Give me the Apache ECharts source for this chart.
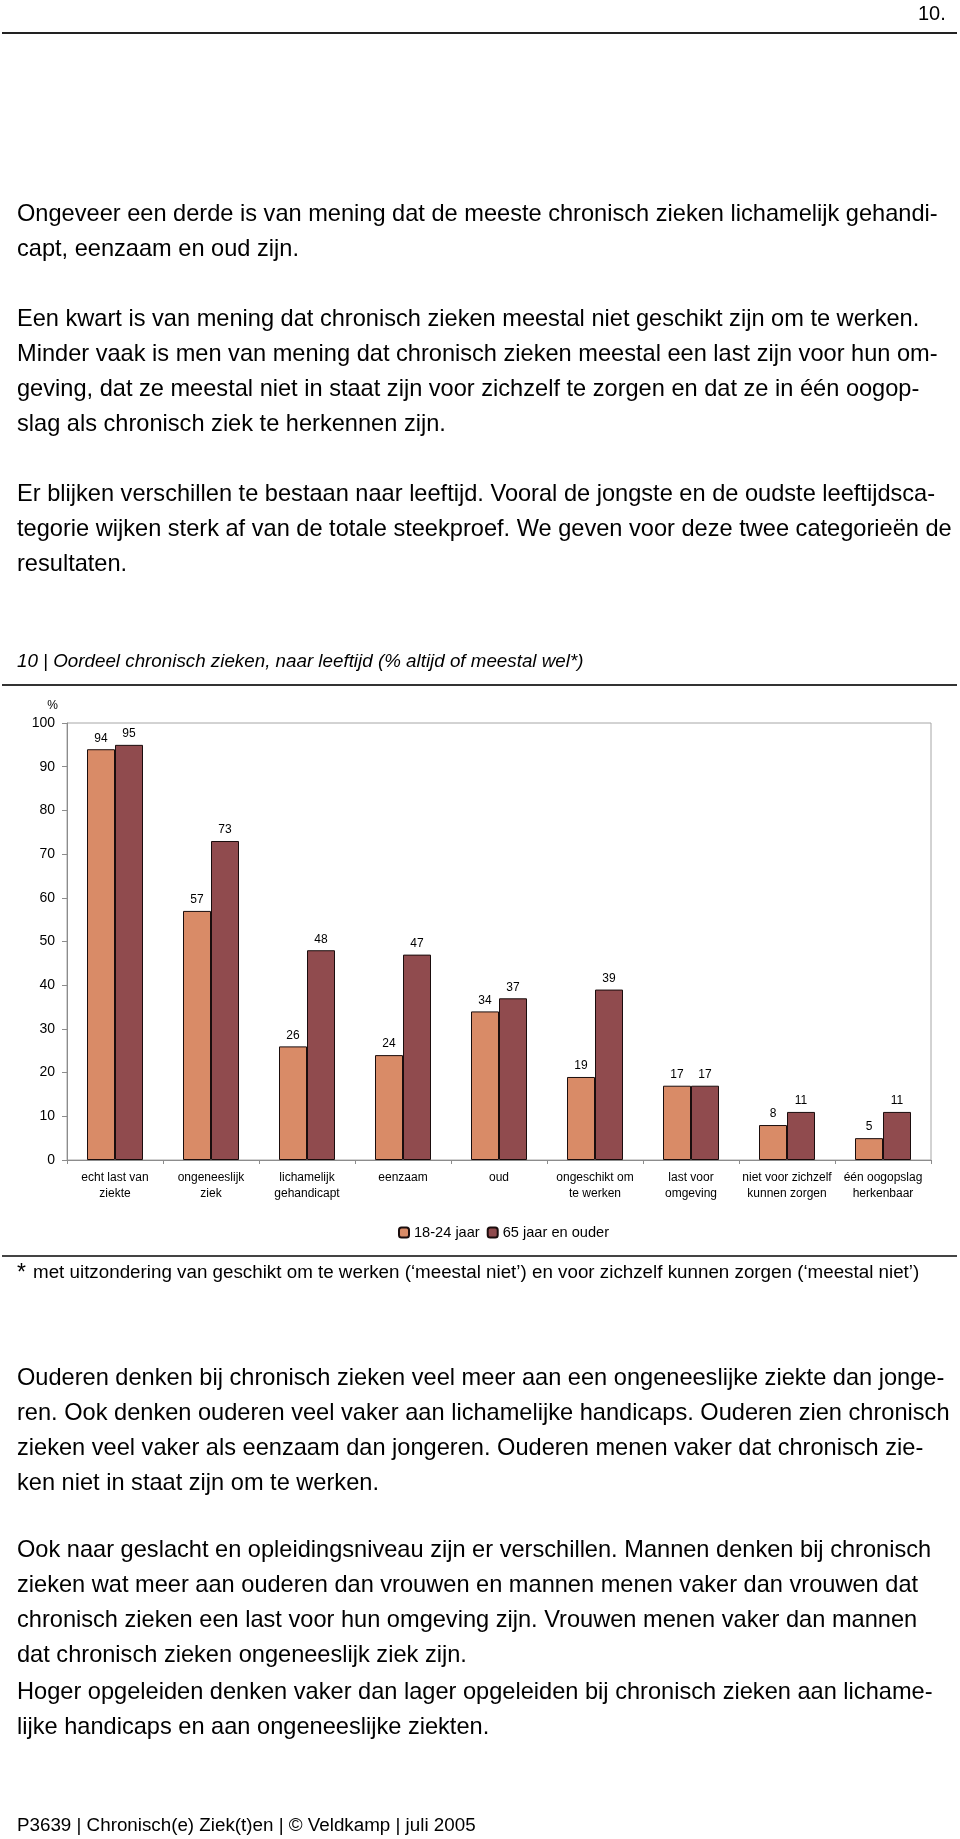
<!DOCTYPE html>
<html>
<head>
<meta charset="utf-8">
<script src="https://cdn.jsdelivr.net/npm/echarts@6/dist/echarts.min.js"></script>
<style>
  html, body { margin: 0; padding: 0; background: #fff; }
  body { width: 960px; height: 1839px; position: relative; overflow: hidden; font-family: "Liberation Sans", Arial, sans-serif; color: #000; }
  #chart { position: absolute; left: 0; top: 0; width: 960px; height: 1839px; z-index: 0; }
  .ln { position: absolute; left: 17px; white-space: nowrap; font-size: 23.6px; line-height: 30px; height: 30px; z-index: 1; }
  .rule { position: absolute; left: 2px; width: 955px; height: 2px; background: #222; z-index: 1; }
</style>
</head>
<body>
<div id="chart"></div>

<div class="ln" style="left:918px; top:-2px; font-size:20px;">10.</div>
<div class="rule" style="top:32px;"></div>

<div class="ln" style="top:198px;">Ongeveer een derde is van mening dat de meeste chronisch zieken lichamelijk gehandi-</div>
<div class="ln" style="top:233px;">capt, eenzaam en oud zijn.</div>
<div class="ln" style="top:303px;">Een kwart is van mening dat chronisch zieken meestal niet geschikt zijn om te werken.</div>
<div class="ln" style="top:338px;">Minder vaak is men van mening dat chronisch zieken meestal een last zijn voor hun om-</div>
<div class="ln" style="top:373px;">geving, dat ze meestal niet in staat zijn voor zichzelf te zorgen en dat ze in één oogop-</div>
<div class="ln" style="top:408px;">slag als chronisch ziek te herkennen zijn.</div>
<div class="ln" style="top:478px;">Er blijken verschillen te bestaan naar leeftijd. Vooral de jongste en de oudste leeftijdsca-</div>
<div class="ln" style="top:513px;">tegorie wijken sterk af van de totale steekproef. We geven voor deze twee categorieën de</div>
<div class="ln" style="top:548px;">resultaten.</div>

<div class="ln" style="top:646px; font-size:18.8px; font-style:italic;">10 | Oordeel chronisch zieken, naar leeftijd (% altijd of meestal wel*)</div>
<div class="rule" style="top:684px; background:#333;"></div>

<div class="rule" style="top:1255px; background:#444;"></div>
<div class="ln" style="top:1257px; font-size:23px;">*</div>
<div class="ln" style="left:33px; top:1257px; font-size:18.8px;">met uitzondering van geschikt om te werken (‘meestal niet’) en voor zichzelf kunnen zorgen (‘meestal niet’)</div>

<div class="ln" style="top:1362px;">Ouderen denken bij chronisch zieken veel meer aan een ongeneeslijke ziekte dan jonge-</div>
<div class="ln" style="top:1397px;">ren. Ook denken ouderen veel vaker aan lichamelijke handicaps. Ouderen zien chronisch</div>
<div class="ln" style="top:1432px;">zieken veel vaker als eenzaam dan jongeren. Ouderen menen vaker dat chronisch zie-</div>
<div class="ln" style="top:1467px;">ken niet in staat zijn om te werken.</div>
<div class="ln" style="top:1534px;">Ook naar geslacht en opleidingsniveau zijn er verschillen. Mannen denken bij chronisch</div>
<div class="ln" style="top:1569px;">zieken wat meer aan ouderen dan vrouwen en mannen menen vaker dan vrouwen dat</div>
<div class="ln" style="top:1604px;">chronisch zieken een last voor hun omgeving zijn. Vrouwen menen vaker dan mannen</div>
<div class="ln" style="top:1639px;">dat chronisch zieken ongeneeslijk ziek zijn.</div>
<div class="ln" style="top:1676px;">Hoger opgeleiden denken vaker dan lager opgeleiden bij chronisch zieken aan lichame-</div>
<div class="ln" style="top:1711px;">lijke handicaps en aan ongeneeslijke ziekten.</div>

<div class="ln" style="top:1810px; font-size:18.8px;">P3639 | Chronisch(e) Ziek(t)en | © Veldkamp | juli 2005</div>

<script>
// ---- data ----
const categories = [
  "echt last van\nziekte",
  "ongeneeslijk\nziek",
  "lichamelijk\ngehandicapt",
  "eenzaam",
  "oud",
  "ongeschikt om\nte werken",
  "last voor\nomgeving",
  "niet voor zichzelf\nkunnen zorgen",
  "één oogopslag\nherkenbaar"
];
const seriesNames = ["18-24 jaar", "65 jaar en ouder"];
const young = [94, 57, 26, 24, 34, 19, 17, 8, 5];
const old = [95, 73, 48, 47, 37, 39, 17, 11, 11];
const yTicks = [0, 10, 20, 30, 40, 50, 60, 70, 80, 90, 100];

// ---- chart ----
const FONT = '"Liberation Sans", Arial, sans-serif';
const chart = echarts.init(document.getElementById('chart'), null, { renderer: 'canvas' });
const barLabel = {
  show: true, position: 'top', distance: 5,
  color: '#000', fontSize: 12, fontFamily: FONT
};
chart.setOption({
  animation: false,
  backgroundColor: 'transparent',
  textStyle: { fontFamily: FONT },
  grid: {
    left: 67, top: 723, width: 864, height: 437,
    show: true, borderColor: '#a6a6a6', borderWidth: 1, backgroundColor: 'transparent'
  },
  legend: {
    left: 393, top: 1220,
    itemWidth: 10, itemHeight: 10, itemGap: 7,
    textStyle: { fontSize: 14.6, color: '#000', fontFamily: FONT },
    data: seriesNames
  },
  xAxis: {
    type: 'category',
    data: categories,
    axisLine: { lineStyle: { color: '#8c8c8c' } },
    axisTick: { show: true, length: 4, lineStyle: { color: '#8c8c8c' } },
    axisLabel: { interval: 0, fontSize: 12, lineHeight: 15.5, margin: 10, color: '#000', fontFamily: FONT }
  },
  yAxis: {
    type: 'value',
    min: yTicks[0], max: yTicks[yTicks.length - 1], interval: 10,
    name: '%',
    nameLocation: 'end', nameGap: 11,
    nameTextStyle: { fontSize: 12, color: '#000', align: 'right', padding: [0, 9, 0, 0], fontFamily: FONT },
    axisLine: { show: true, lineStyle: { color: '#8c8c8c' } },
    axisTick: { show: true, length: 5, lineStyle: { color: '#8c8c8c' } },
    splitLine: { show: false },
    axisLabel: { fontSize: 14, margin: 12, color: '#000', fontFamily: FONT }
  },
  series: [
    {
      name: seriesNames[0], type: 'bar', data: young,
      barWidth: 28, barGap: '0%',
      itemStyle: { color: '#D98B67', borderColor: '#1a0d0d', borderWidth: 1 },
      label: barLabel
    },
    {
      name: seriesNames[1], type: 'bar', data: old,
      barWidth: 28, barGap: '0%',
      itemStyle: { color: '#904B4E', borderColor: '#1a0d0d', borderWidth: 1 },
      label: barLabel
    }
  ]
});
</script>
</body>
</html>
